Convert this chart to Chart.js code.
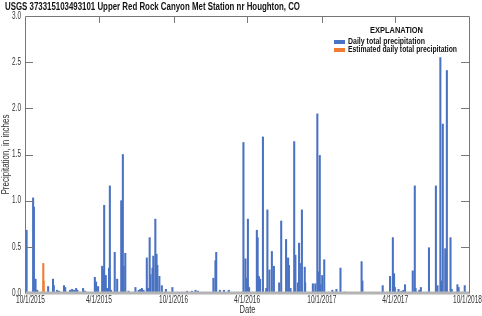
<!DOCTYPE html>
<html>
<head>
<meta charset="utf-8">
<script src="https://cdn.jsdelivr.net/npm/chart.js@4/dist/chart.umd.min.js"></script>
<style>
html,body{margin:0;padding:0;background:#fff;}
#wrap{position:relative;width:482px;height:316px;}
</style>
</head>
<body>
<div id="wrap"><canvas id="c" width="482" height="316"></canvas></div>
<script>
// ---- DATA (day offsets counted from 10/1/2015) ----
const chartTitle = "USGS 373315103493101 Upper Red Rock Canyon Met Station nr Houghton, CO";
const xAxisTitle = "Date";
const yAxisTitle = "Precipitation, in inches";
const legendTitle = "EXPLANATION";
const tickDays = [0, 182, 366, 547, 731, 912, 1096];
const tickLabels = ["10/1/2015", "4/1/2015", "10/1/2016", "4/1/2016", "10/1/2017", "4/1/2017", "10/1/2018"];
const yTicks = [0, 0.5, 1.0, 1.5, 2.0, 2.5, 3.0];
const yTickLabels = ["0.0", "0.5", "1.0", "1.5", "2.0", "2.5", "3.0"];
const seriesNames = ["Daily total precipitation", "Estimated daily total precipitation"];

const dailyDays = [1,4,20,22,26,30,57,69,71,79,84,96,99,111,116,121,126,129,143,148,
  172,175,180,190,192,195,199,202,207,209,212,221,227,237,241,243,247,255,272,280,
  284,288,292,300,303,307,309,314,316,321,324,326,331,337,347,363,399,411,420,426,
  464,469,471,480,490,502,538,543,546,549,552,571,573,576,579,586,594,597,602,608,
  613,626,631,643,648,650,654,663,666,672,675,677,682,689,690,709,715,720,723,726,
  728,732,737,757,767,777,788,829,831,881,899,906,909,911,920,927,932,936,955,960,
  962,971,975,995,1012,1016,1023,1026,1029,1035,1039,1048,1051,1065,1068,1083];
const dailyValues = [0.39,0.68,1.03,0.93,0.15,0.03,0.07,0.15,0.08,0.03,0.02,0.08,0.06,0.03,0.04,0.03,0.05,0.03,0.05,0.02,
  0.17,0.12,0.07,0.29,0.25,0.95,0.19,0.05,0.27,1.16,0.03,0.44,0.15,1.00,1.50,0.29,0.43,0.02,0.06,0.03,
  0.04,0.05,0.03,0.38,0.05,0.60,0.20,0.27,0.40,0.80,0.42,0.30,0.18,0.08,0.04,0.06,0.02,0.02,0.03,0.02,
  0.16,0.35,0.44,0.03,0.03,0.03,1.63,0.37,0.16,0.80,0.06,0.68,0.60,0.18,0.15,1.69,0.05,0.90,0.25,0.45,
  0.29,0.11,0.78,0.58,0.38,0.30,0.05,1.64,0.41,0.11,0.54,0.32,0.90,0.28,0.11,0.10,0.10,1.94,0.23,1.49,
  0.09,0.19,0.36,0.03,0.04,0.27,0.01,0.34,0.13,0.08,0.18,0.60,0.21,0.06,0.04,0.02,0.03,0.09,0.24,1.16,
  0.05,0.03,0.06,0.49,1.16,0.08,2.55,0.13,1.83,0.48,2.41,0.60,0.04,0.09,0.06,0.08];
const estimatedDays = [45, 46];
const estimatedValues = [0.32, 0.13];

const BLUE = "#4a72c2", ORANGE = "#ee7d31";
const FONT = "'Liberation Sans', Arial, sans-serif";

function pts(xs, ys){ return xs.map((d,i)=>({x:d, y:ys[i]})); }

// draw horizontally condensed text (sx = fixed factor, or fit to width w)
function txt(ctx, s, x, y, o){
  ctx.save();
  ctx.font = (o.bold ? "bold " : "") + o.size + "px " + FONT;
  let sx = o.sx || 1;
  if (o.w) sx = o.w / ctx.measureText(s).width;
  ctx.translate(x, y);
  if (o.rot) ctx.rotate(o.rot);
  ctx.scale(sx, 1);
  ctx.fillStyle = o.color || '#222';
  ctx.textAlign = o.align || 'left';
  ctx.textBaseline = 'middle';
  ctx.fillText(s, 0, 0);
  ctx.restore();
}

const framePlugin = {
  id: 'frame',
  afterDraw(chart){
    const ctx = chart.ctx, a = chart.chartArea, xs = chart.scales.x, ys = chart.scales.y;
    ctx.save();
    // bottom axis (thick gray)
    ctx.strokeStyle = '#b4b4b4'; ctx.lineWidth = 3;
    ctx.beginPath(); ctx.moveTo(a.left, a.bottom); ctx.lineTo(a.right, a.bottom); ctx.stroke();
    // frame
    ctx.strokeStyle = '#777'; ctx.lineWidth = 1;
    ctx.beginPath();
    ctx.moveTo(a.left+0.5, a.bottom); ctx.lineTo(a.left+0.5, a.top+0.5);
    ctx.lineTo(a.right-0.5, a.top+0.5); ctx.lineTo(a.right-0.5, a.bottom);
    ctx.stroke();
    // y ticks inward (left and right) + labels
    yTicks.forEach((v,i)=>{
      const yp = ys.getPixelForValue(v);
      const y = Math.round(yp) + 0.5;
      if (v !== 0 && v !== 3) {
        ctx.beginPath(); ctx.moveTo(a.left, y); ctx.lineTo(a.left+8, y); ctx.stroke();
        ctx.beginPath(); ctx.moveTo(a.right, y); ctx.lineTo(a.right-9, y); ctx.stroke();
      }
      txt(ctx, yTickLabels[i], a.left - 4, yp, {size: 10, w: 9, align: 'right', color: '#333'});
    });
    // x ticks on top, inward + labels
    tickDays.forEach((d,i)=>{
      const xp = xs.getPixelForValue(d);
      if (i !== 0 && i !== tickDays.length-1) {
        const x = Math.round(xp) + 0.5;
        ctx.beginPath(); ctx.moveTo(x, a.top); ctx.lineTo(x, a.top+7); ctx.stroke();
      }
      const w = tickLabels[i].length >= 9 ? 29 : 26;
      let left = xp - w/2;
      left = Math.max(left, 16); left = Math.min(left, chart.width - w);
      txt(ctx, tickLabels[i], left, a.bottom + 7, {size: 10, w: w, color: '#333'});
    });
    ctx.restore();
    // titles
    txt(ctx, xAxisTitle, (a.left+a.right)/2, a.bottom + 17, {size: 11, w: 16, align: 'center', color: '#333'});
    txt(ctx, yAxisTitle, 6, (a.top+a.bottom)/2, {size: 10.5, w: 80, align: 'center', color: '#333', rot: -Math.PI/2});
    txt(ctx, chartTitle, 5, 7, {size: 11, bold: true, w: 295, color: '#111'});
    // legend (explanation)
    txt(ctx, legendTitle, 396.5, 30, {size: 9.5, bold: true, w: 53, align: 'center', color: '#111'});
    const legW = [77, 109];
    chart.data.datasets.forEach((ds,i)=>{
      const yy = 41.5 + i*8;
      ctx.fillStyle = ds.backgroundColor;
      ctx.fillRect(334, Math.round(yy)-2, 11, 4);
      txt(ctx, ds.label, 348, yy, {size: 9, bold: true, w: legW[i], color: '#111'});
    });
  }
};

new Chart(document.getElementById('c'), {
  type: 'bar',
  data: {
    datasets: [
      { label: seriesNames[0], data: pts(dailyDays, dailyValues), backgroundColor: BLUE, barThickness: 1.4, grouped: false },
      { label: seriesNames[1], data: pts(estimatedDays, estimatedValues), backgroundColor: ORANGE, barThickness: 1.4, grouped: false }
    ]
  },
  options: {
    responsive: false, animation: false,
    layout: { padding: { left: 25, right: 12, top: 16, bottom: 0 } },
    plugins: { legend: { display: false }, tooltip: { enabled: false } },
    scales: {
      x: {
        type: 'linear', min: 0, max: 1096, offset: false,
        grid: { display: false }, border: { display: false },
        ticks: { display: false },
        afterBuildTicks(s){ s.ticks = tickDays.map(v=>({value:v})); },
        afterFit(s){ s.height = 23; s.paddingLeft = 0; s.paddingRight = 0; }
      },
      y: {
        min: 0, max: 3,
        grid: { display: false }, border: { display: false },
        afterBuildTicks(s){ s.ticks = yTicks.map(v=>({value:v})); },
        ticks: { display: false },
        afterFit(s){ s.width = 0; s.paddingTop = 0; s.paddingBottom = 0; }
      }
    }
  },
  plugins: [framePlugin]
});
</script>
</body>
</html>
